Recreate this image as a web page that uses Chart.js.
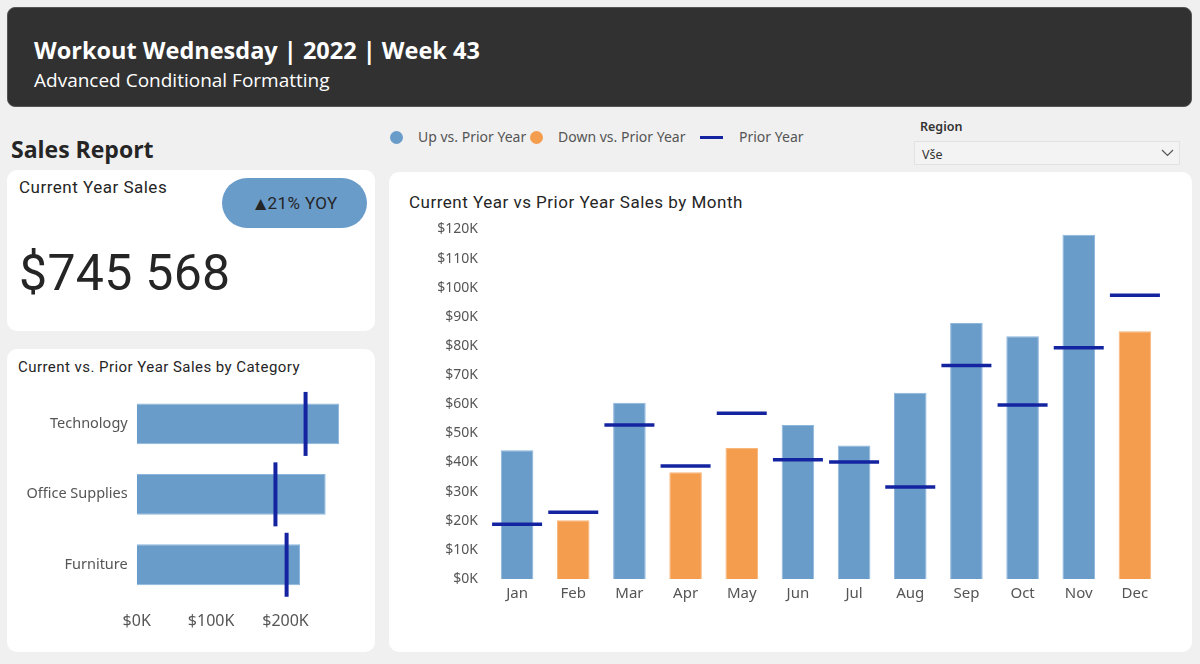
<!DOCTYPE html>
<html>
<head>
<meta charset="utf-8">
<script src="https://cdn.jsdelivr.net/npm/chart.js@4.4.0/dist/chart.umd.min.js"></script>
<style>
  body { margin: 0; width: 1200px; height: 664px; background: #f0f0f0; position: relative; overflow: hidden; font-family: "Noto Sans", sans-serif; }
  .abs { position: absolute; }
  .card { position: absolute; background: #fff; border-radius: 10px; }
  #header { left: 7px; top: 7px; width: 1185px; height: 100px; background: #313131; border: 1px solid #555; border-radius: 8px; box-sizing: border-box; }
  #title { left: 34px; top: 34px; font: 700 23.5px "Open Sans"; color: #fff; white-space: nowrap; }
  #subtitle { left: 34px; top: 67px; font: 400 19px "Open Sans"; color: #fff; white-space: nowrap; }
  #report { left: 11px; top: 133px; font: 700 23px "Open Sans"; color: #252525; }
  .cardTitle { font-family: Roboto; color: #252525; white-space: nowrap; }
  #pill { left: 222px; top: 178px; width: 145px; height: 50px; border-radius: 25px; background: #6a9cca; color: #252525; font: 400 17px Roboto; display: flex; align-items: center; justify-content: center; letter-spacing: 0.4px; }
  #pill span { font-size: 19px; margin-right: -3px; }
  #kpi { left: 19px; top: 244px; font: 400 50px Roboto; color: #252525; letter-spacing: 0.3px; white-space: nowrap; }
  .leg { font: 400 14px "Noto Sans"; color: #555; white-space: nowrap; top: 127px; }
  .dot { width: 13px; height: 13px; border-radius: 50%; top: 131px; }
  #region { left: 920px; top: 118px; font: 600 12.5px "Noto Sans"; color: #333; }
  #slicer { left: 914px; top: 141px; width: 266px; height: 24px; background: #f3f3f3; border: 1px solid #e2e2e2; box-sizing: border-box; font: 400 12.5px "Noto Sans"; color: #333; padding: 4px 0 0 7px; }
</style>
</head>
<body>
<div id="header" class="abs"></div>
<div id="title" class="abs">Workout Wednesday | 2022 | Week 43</div>
<div id="subtitle" class="abs">Advanced Conditional Formatting</div>
<div id="report" class="abs">Sales Report</div>

<div class="card" style="left:7px;top:170px;width:368px;height:161px;"></div>
<div class="abs cardTitle" style="left:19px;top:177px;font-size:17px;letter-spacing:0.5px;">Current Year Sales</div>
<div id="pill" class="abs"><span>▲</span>21% YOY</div>
<div id="kpi" class="abs">$745 568</div>

<div class="card" style="left:7px;top:349px;width:368px;height:303px;"></div>
<div class="abs cardTitle" style="left:18px;top:358px;font-size:15px;letter-spacing:0.45px;">Current vs. Prior Year Sales by Category</div>
<canvas id="catChart" class="abs" style="left:12px;top:371px;" width="345" height="261"></canvas>

<div class="abs dot" style="left:390px;background:#6a9cca;"></div>
<div class="abs leg" style="left:418px;">Up vs. Prior Year</div>
<div class="abs dot" style="left:530px;background:#f59d4f;"></div>
<div class="abs leg" style="left:558px;">Down vs. Prior Year</div>
<div class="abs" style="left:700px;top:136px;width:23px;height:3px;background:#1424a0;"></div>
<div class="abs leg" style="left:739px;">Prior Year</div>

<div id="region" class="abs">Region</div>
<div id="slicer" class="abs">Vše
  <svg class="abs" style="left:246px;top:7px;" width="13" height="8"><polyline points="1,1 6.5,6.5 12,1" fill="none" stroke="#555" stroke-width="1.2"/></svg>
</div>

<div class="card" style="left:389px;top:172px;width:803px;height:480px;"></div>
<div class="abs cardTitle" style="left:409px;top:192px;font-size:17px;letter-spacing:0.5px;">Current Year vs Prior Year Sales by Month</div>
<canvas id="monthChart" class="abs" style="left:395px;top:210px;" width="778" height="399"></canvas>

<script>
// values in $K
const months = ['Jan', 'Feb', 'Mar', 'Apr', 'May', 'Jun', 'Jul', 'Aug', 'Sep', 'Oct', 'Nov', 'Dec'];
const currentSales = [44.2, 20.2, 60.5, 36.6, 45.0, 52.9, 45.8, 63.9, 87.9, 83.3, 118.2, 85.0];
const priorSales = [18.8, 22.9, 52.9, 38.8, 56.9, 40.9, 40.2, 31.6, 73.3, 59.7, 79.4, 97.4];

const categories = ['Technology', 'Office Supplies', 'Furniture'];
const catCurrent = [272, 254, 219.5];
const catPrior = [227, 186.5, 201.5];

const upColor = '#6a9cca';
const downColor = '#f59d4f';
const priorColor = '#1424a0';
const kFmt = v => '$' + v + 'K';

const tickFont = { family: 'Noto Sans', size: 14 };

// month chart
const barColors = currentSales.map((v, i) => v >= priorSales[i] ? upColor : downColor);
const barEdges = currentSales.map((v, i) => v >= priorSales[i] ? '#8db6dc' : '#f8b77c');

new Chart(document.getElementById('monthChart'), {
  data: {
    labels: months,
    datasets: [
      {
        type: 'line',
        label: 'Prior Year',
        data: priorSales,
        showLine: false,
        pointStyle: 'line',
        pointRadius: 25,
        pointBorderWidth: 3.5,
        pointBorderColor: priorColor,
        clip: false,
        order: 0
      },
      {
        type: 'bar',
        label: 'Current Year',
        data: currentSales,
        backgroundColor: barColors,
        borderColor: barEdges,
        borderWidth: 1,
        categoryPercentage: 1,
        barPercentage: 0.58,
        order: 1
      }
    ]
  },
  options: {
    responsive: false,
    animation: false,
    layout: { autoPadding: false, padding: { top: 17, right: 10, bottom: 0, left: 0 } },
    plugins: { legend: { display: false }, tooltip: { enabled: false } },
    scales: {
      x: {
        grid: { display: false, drawTicks: false },
        border: { display: false },
        ticks: { font: { family: 'Noto Sans', size: 15 }, color: '#555', padding: 6 },
        afterFit: s => { s.height = 30; }
      },
      y: {
        min: 0,
        max: 120,
        grid: { display: false, drawTicks: false },
        border: { display: false },
        ticks: { stepSize: 10, font: tickFont, color: '#555', padding: 11, callback: kFmt },
        afterFit: s => { s.width = 94; }
      }
    }
  }
});

// category chart
new Chart(document.getElementById('catChart'), {
  data: {
    labels: categories,
    datasets: [
      {
        type: 'line',
        label: 'Prior Year',
        data: catPrior,
        showLine: false,
        pointStyle: 'line',
        pointRotation: 90,
        pointRadius: 32,
        pointBorderWidth: 4,
        pointBorderColor: priorColor,
        clip: false,
        order: 0
      },
      {
        type: 'bar',
        label: 'Current Year',
        data: catCurrent,
        backgroundColor: upColor,
        borderColor: '#8db6dc',
        borderWidth: 1,
        categoryPercentage: 1,
        barPercentage: 0.58,
        order: 1
      }
    ]
  },
  options: {
    indexAxis: 'y',
    responsive: false,
    animation: false,
    layout: { autoPadding: false, padding: { top: 0, right: 12, bottom: 0, left: 0 } },
    plugins: { legend: { display: false }, tooltip: { enabled: false } },
    scales: {
      x: {
        min: 0,
        max: 280,
        grid: { display: false, drawTicks: false },
        border: { display: false },
        afterBuildTicks: axis => { axis.ticks = axis.ticks.filter(t => t.value % 100 === 0); },
        ticks: { stepSize: 100, font: { family: 'Noto Sans', size: 16 }, color: '#555', padding: 12, callback: kFmt },
        afterFit: s => { s.height = 32; }
      },
      y: {
        grid: { display: false, drawTicks: false },
        border: { display: false },
        ticks: { font: { family: 'Noto Sans', size: 14.5 }, color: '#555', padding: 9 },
        afterFit: s => { s.width = 124.7; }
      }
    }
  }
});
</script>
</body>
</html>
